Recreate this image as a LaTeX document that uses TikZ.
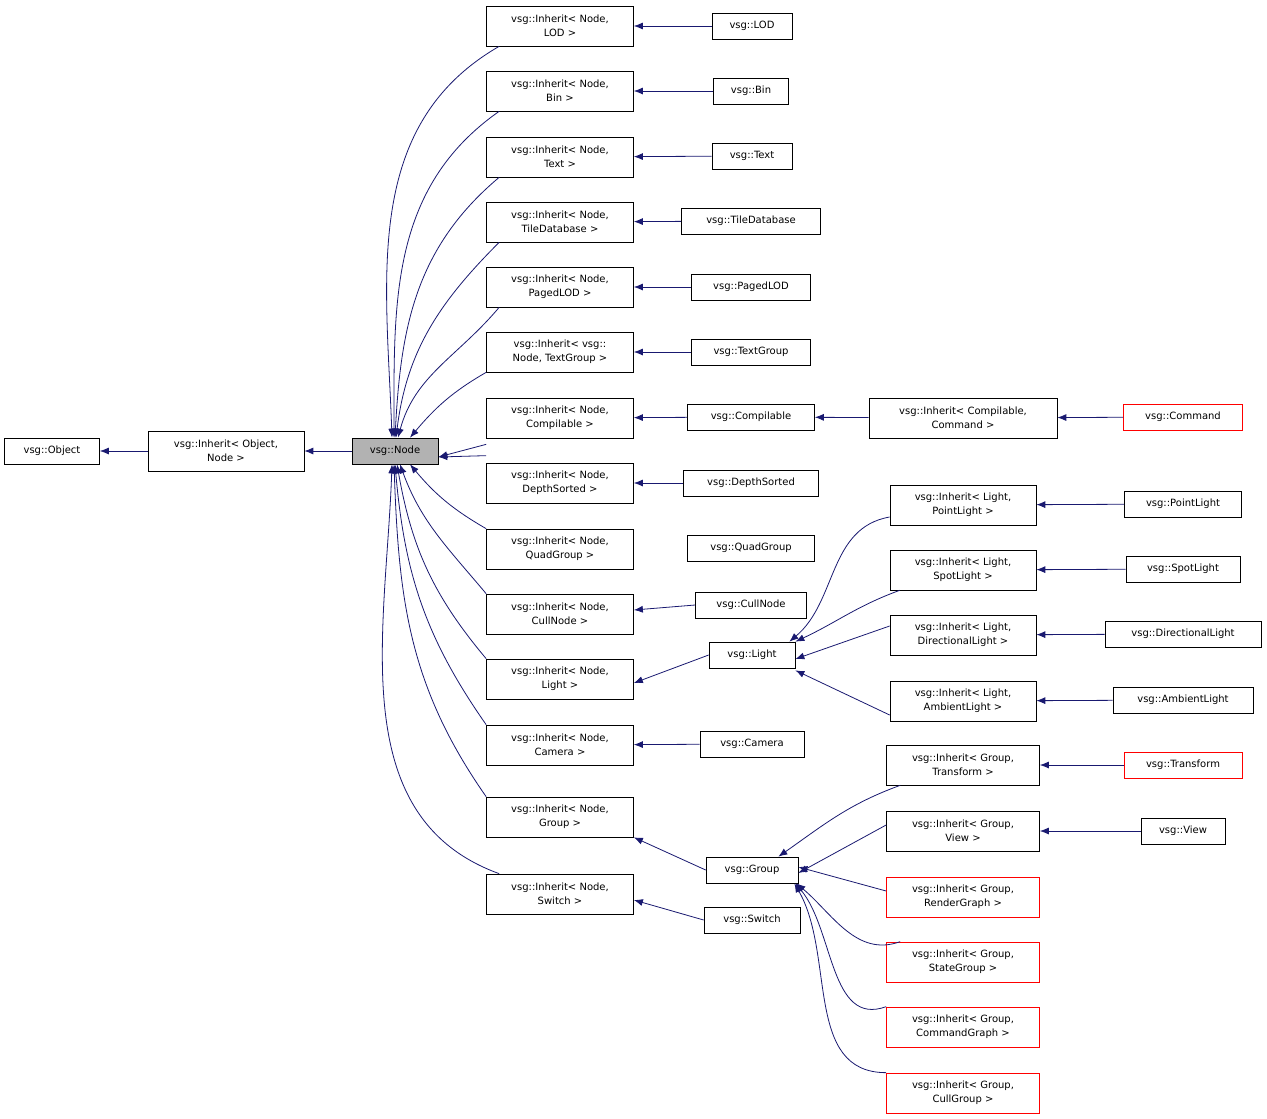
\documentclass[tikz,border=0pt]{standalone}
\usepackage{fontspec}
\setmainfont{DejaVu Sans}
\usetikzlibrary{arrows.meta}
\definecolor{mb}{HTML}{191970}
\begin{document}
\begin{tikzpicture}[x=1pt,y=-1pt,
 b/.style={draw,inner sep=0pt,align=center,minimum height=26pt,font=\fontsize{10}{14}\selectfont,line width=0.7pt},
 t/.style={b,minimum height=40pt},
 r/.style={draw=red},
 e/.style={draw=mb,line width=0.8pt,-{Latex[length=9pt,width=7pt]},fill=none}]
\useasboundingbox (0,0) rectangle (1267,1119);
\node[b,minimum width=95] (obj) at (52,451) {vsg::Object};
\node[t,minimum width=156] (io) at (226,451) {vsg::Inherit< Object,\\Node >};
\node[b,minimum width=86,fill=gray!60] (n) at (395,451) {vsg::Node};
% middle
\foreach \nm/\y/\txt in {mLOD/26/{vsg::Inherit< Node,\\LOD >},mBin/91/{vsg::Inherit< Node,\\Bin >},mText/157/{vsg::Inherit< Node,\\Text >},mTile/222/{vsg::Inherit< Node,\\TileDatabase >},mPaged/287/{vsg::Inherit< Node,\\PagedLOD >},mTG/352/{vsg::Inherit< vsg::\\Node, TextGroup >},mComp/418/{vsg::Inherit< Node,\\Compilable >},mDepth/483/{vsg::Inherit< Node,\\DepthSorted >},mQuad/549/{vsg::Inherit< Node,\\QuadGroup >},mCull/614/{vsg::Inherit< Node,\\CullNode >},mLight/679/{vsg::Inherit< Node,\\Light >},mCam/745/{vsg::Inherit< Node,\\Camera >},mGroup/817/{vsg::Inherit< Node,\\Group >},mSwitch/894/{vsg::Inherit< Node,\\Switch >}}
 \node[t,minimum width=147] (\nm) at (560,\y) {\txt};
% right singles
\node[b,minimum width=80] (LOD) at (752,26) {vsg::LOD};
\node[b,minimum width=75] (Bin) at (751,91) {vsg::Bin};
\node[b,minimum width=80] (Text) at (752,156) {vsg::Text};
\node[b,minimum width=139] (Tile) at (751,221) {vsg::TileDatabase};
\node[b,minimum width=119] (Paged) at (751,287) {vsg::PagedLOD};
\node[b,minimum width=119] (TG) at (751,352) {vsg::TextGroup};
\node[b,minimum width=127] (Comp) at (751,417) {vsg::Compilable};
\node[b,minimum width=135] (Depth) at (751,483) {vsg::DepthSorted};
\node[b,minimum width=127] (Quad) at (751,548) {vsg::QuadGroup};
\node[b,minimum width=111] (Cull) at (751,605) {vsg::CullNode};
\node[b,minimum width=86] (Light) at (752,655) {vsg::Light};
\node[b,minimum width=104] (Cam) at (752,744) {vsg::Camera};
\node[b,minimum width=92] (Group) at (752,870) {vsg::Group};
\node[b,minimum width=96] (Switch) at (752,920) {vsg::Switch};
\node[t,minimum width=188] (icc) at (963,418) {vsg::Inherit< Compilable,\\Command >};
\node[b,r,minimum width=119] (Cmd) at (1183,417) {vsg::Command};
% light
\node[t,minimum width=146] (lP) at (963,505) {vsg::Inherit< Light,\\PointLight >};
\node[t,minimum width=146] (lS) at (963,570) {vsg::Inherit< Light,\\SpotLight >};
\node[t,minimum width=146] (lD) at (963,635) {vsg::Inherit< Light,\\DirectionalLight >};
\node[t,minimum width=146] (lA) at (963,701) {vsg::Inherit< Light,\\AmbientLight >};
\node[b,minimum width=117] (P) at (1183,504) {vsg::PointLight};
\node[b,minimum width=114] (S) at (1183,569) {vsg::SpotLight};
\node[b,minimum width=156] (D) at (1183,634) {vsg::DirectionalLight};
\node[b,minimum width=140] (A) at (1183,700) {vsg::AmbientLight};
% group
\node[t,minimum width=153] (gT) at (963,765) {vsg::Inherit< Group,\\Transform >};
\node[t,minimum width=153] (gV) at (963,831) {vsg::Inherit< Group,\\View >};
\node[t,r,minimum width=153] (gR) at (963,897) {vsg::Inherit< Group,\\RenderGraph >};
\node[t,r,minimum width=153] (gS) at (963,962) {vsg::Inherit< Group,\\StateGroup >};
\node[t,r,minimum width=153] (gC) at (963,1027) {vsg::Inherit< Group,\\CommandGraph >};
\node[t,r,minimum width=153] (gU) at (963,1093) {vsg::Inherit< Group,\\CullGroup >};
\node[b,r,minimum width=118] (T) at (1183,765) {vsg::Transform};
\node[b,minimum width=84] (V) at (1183,831) {vsg::View};
% edges
\draw[e] (io) -- (obj);
\draw[e] (n) -- (io);
\draw[e] ([xshift=13]mLOD.south west) to[out=-150,in=92] ([xshift=-3]n.north);
\draw[e] ([xshift=13]mBin.south west) to[out=-145,in=90] ([xshift=-1]n.north);
\draw[e] ([xshift=13]mText.south west) to[out=-140,in=87] (n.north);
\draw[e] ([xshift=13]mTile.south west) to[out=-135,in=83] ([xshift=1]n.north);
\draw[e] ([xshift=13]mPaged.south west) to[out=-130,in=75] ([xshift=3]n.north);
\draw[e] ([xshift=0]mTG.south west) to[out=-150,in=50] ([xshift=15]n.north);
\draw[e] ([yshift=-6]mComp.south west) -- ([yshift=-6]n.east);
\draw[e] ([yshift=7]mDepth.north west) -- ([yshift=-6]n.east);
\draw[e] ([yshift=0]mQuad.north west) to[out=150,in=-50] ([xshift=15]n.south);
\draw[e] ([xshift=0]mCull.north west) to[out=130,in=-70] ([xshift=5]n.south);
\draw[e] ([xshift=0]mLight.north west) to[out=130,in=-80] ([xshift=2]n.south);
\draw[e] ([xshift=0]mCam.north west) to[out=125,in=-85] ([xshift=0]n.south);
\draw[e] ([xshift=0]mGroup.north west) to[out=125,in=-88] ([xshift=-1]n.south);
\draw[e] ([xshift=13]mSwitch.north west) to[out=160,in=-92] ([xshift=-3]n.south);
\foreach \a/\m in {LOD/mLOD,Bin/mBin,Text/mText,Tile/mTile,Paged/mPaged,TG/mTG,Comp/mComp,Depth/mDepth,Cam/mCam}
 \draw[e] (\a) -- (\m);
\draw[e] (Cull.west) -- ([yshift=4]mCull.east);
\draw[e] (Light.west) -- ([yshift=-4]mLight.east);
\draw[e] (Group.west) -- (mGroup.south east);
\draw[e] (Switch.west) -- ([yshift=-6]mSwitch.east);
\draw[e] (icc) -- (Comp);
\draw[e] (Cmd) -- (icc);
\foreach \a/\m in {P/lP,S/lS,D/lD,A/lA,T/gT,V/gV} \draw[e] (\a) -- (\m);
\draw[e] ([yshift=-12]lP.west) to[out=190,in=40] ([xshift=-6]Light.north east);
\draw[e] ([xshift=10]lS.south west) to[out=200,in=25] (Light.north east);
\draw[e] ([yshift=9]lD.west) -- ([yshift=-4]Light.east);
\draw[e] ([yshift=-14]lA.west) -- ([yshift=-2]Light.south east);
\draw[e] ([xshift=14]gT.south west) to[out=200,in=35] ([xshift=-20]Group.north east);
\draw[e] ([yshift=6]gV.west) -- ([yshift=-3]Group.east);
\draw[e] ([yshift=6]gR.west) -- ([yshift=3]Group.east);
\draw[e] ([xshift=14]gS.north west) to[out=200,in=-40] ([xshift=-2]Group.south east);
\draw[e] ([xshift=0]gC.north west) to[out=200,in=-50] ([xshift=-3]Group.south east);
\draw[e] ([xshift=0]gU.north west) to[out=180,in=-60] ([xshift=-4]Group.south east);
\end{tikzpicture}
\end{document}
